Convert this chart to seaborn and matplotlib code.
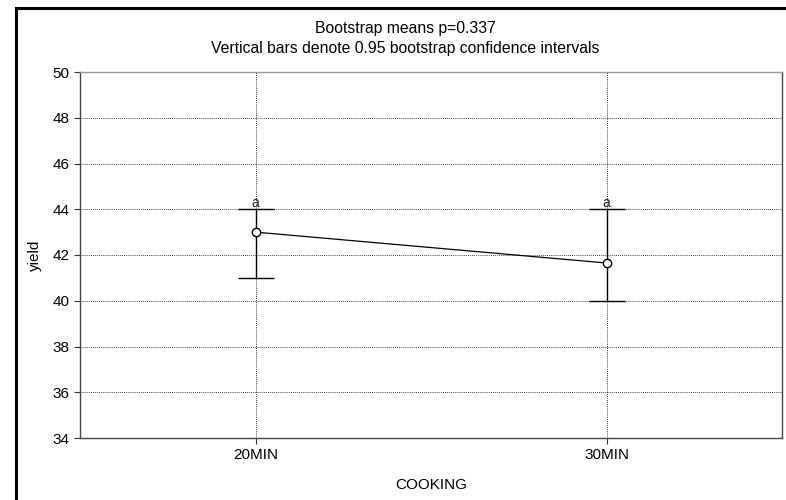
import matplotlib
matplotlib.use("Agg")
import matplotlib.pyplot as plt
from matplotlib.patches import Rectangle
import seaborn as sns
import pandas as pd

# Bootstrap means of yield by cooking time, with 0.95 CI bounds
cooking = ["20MIN", "30MIN"]
mean_yield = [43.0, 41.65]
ci_low = [41.0, 40.0]
ci_high = [44.0, 44.0]
group_letters = ["a", "a"]

df = pd.DataFrame({"COOKING": cooking, "yield": mean_yield})

sns.set_theme(style="white")
plt.rcParams["font.family"] = ["Liberation Sans", "DejaVu Sans"]

fig = plt.figure(figsize=(7.86, 5.0), dpi=100)
ax = fig.add_axes([80 / 786, 1 - 438 / 500, (782 - 80) / 786, (438 - 72) / 500])

# Outer frame around the whole graph window
fig.patches.append(Rectangle((15.5 / 786, -0.1), 1.2, 1 - 7.5 / 500 + 0.1,
                             transform=fig.transFigure, fill=False,
                             edgecolor="black", linewidth=2.2, clip_on=False))

x = list(range(len(cooking)))
sns.lineplot(data=df, x=x, y="yield", ax=ax, color="black", linewidth=0.9,
             marker="o", markersize=6, markerfacecolor="white",
             markeredgecolor="black", markeredgewidth=1.0, zorder=4)

for xi, m, lo, hi, lab in zip(x, mean_yield, ci_low, ci_high, group_letters):
    ax.errorbar(xi, m, yerr=[[m - lo], [hi - m]], fmt="none", ecolor="black",
                elinewidth=1.0, capsize=13, capthick=1.0, zorder=3)
    ax.text(xi, hi - 0.02, lab, ha="center", va="bottom", fontsize=10, color="#222222")

ax.set_xlim(-0.5, 1.5)
ax.set_ylim(34, 50)
ax.set_yticks(range(34, 51, 2))
ax.set_xticks(x)
ax.set_xticklabels(cooking)
ax.grid(True, color="black", linestyle=(0, (1, 1.5)), linewidth=0.6)
ax.set_axisbelow(True)

for side in ["left", "bottom", "right", "top"]:
    ax.spines[side].set_color("#444444")
    ax.spines[side].set_linewidth(1.0)
ax.spines["top"].set_color("#999999")

ax.tick_params(axis="both", which="both", direction="out", length=4, width=0.8,
               color="#333333", labelsize=11, labelcolor="black", left=True, bottom=True)
ax.set_xlabel("COOKING", fontsize=11, color="black", labelpad=11)
ax.set_ylabel("yield", fontsize=11, color="black", labelpad=8)

cx = 405 / 786
fig.text(cx, 1 - 28 / 500, "Bootstrap means p=0.337",
         ha="center", va="center", fontsize=11.3, color="black")
fig.text(cx, 1 - 49 / 500,
         "Vertical bars denote 0.95 bootstrap confidence intervals",
         ha="center", va="center", fontsize=11.3, color="black")

fig.savefig("out.png", dpi=100)
